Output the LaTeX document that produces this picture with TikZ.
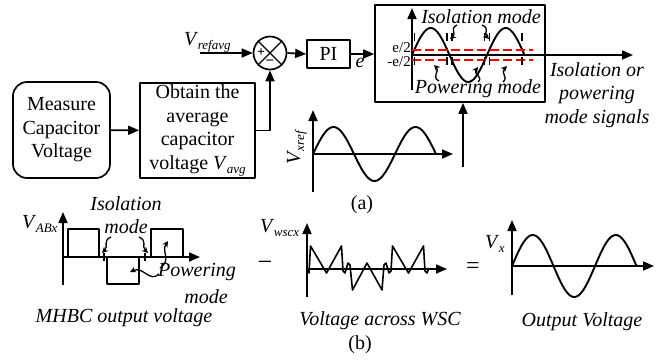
\documentclass[tikz,border=0pt]{standalone}
\usepackage{fontspec}
\setmainfont{Liberation Serif}
\usetikzlibrary{arrows.meta}
\newcommand{\Vs}[2][13]{\textit{V}\kern-0.5pt\raisebox{-0.45ex}{\fontsize{#1}{#1}\selectfont\itshape #2}}
\begin{document}
\begin{tikzpicture}[x=1pt,y=-1pt,line join=round,
  every node/.style={font=\fontsize{20}{23.5}\selectfont, inner sep=0pt},
  itx/.style={font=\fontsize{20}{23.5}\selectfont\itshape},
  blk/.style={draw, line width=1.7pt, align=center},
  conn/.style={line width=1.7pt, -{Triangle[length=11pt,width=9pt]}},
  axis/.style={line width=1.7pt, -{Triangle[length=11pt,width=9pt]}},
  wave/.style={line width=1.9pt},
  curl/.style={line width=1.3pt, -{Stealth[length=6pt,width=6pt]}}]
\useasboundingbox (0,0) rectangle (669,360);

% ---- (a) control chain
\node[blk, rounded corners=14pt, minimum width=97pt, minimum height=96pt] (meas) at (61.5,130) {Measure\\Capacitor\\Voltage};
\node[blk, minimum width=115pt, minimum height=95pt] (obt) at (197.5,130.5) {Obtain the\\average\\capacitor\\voltage \Vs{avg}};
\draw[conn] (meas) -- (obt);

\node[draw, circle, line width=1.7pt, minimum size=33pt] (sum) at (270,53) {};
\draw[line width=1.4pt] (sum.north west) -- (sum.south east) (sum.north east) -- (sum.south west);
\node[font=\fontsize{14}{14}\selectfont\bfseries] (plus) at (261,53) {+};
\node[font=\fontsize{15}{15}\selectfont\bfseries] (minussign) at (270,63) {−};

\coordinate (vref) at (200,53);
\draw[conn] (vref) -- (sum.west);
\node[anchor=base west] (vreflbl) at (184,45) {\Vs{refavg}};
\draw[conn] (obt.east) -| (sum.south);

\node[blk, minimum width=43pt, minimum height=28pt] (pi) at (328.5,54) {PI};
\draw[conn] (sum.east) -- (pi.west);

\node[draw, line width=1.7pt, minimum width=170pt, minimum height=97pt] (mode) at (460,53.5) {};
\draw[conn] (pi.east) -- (pi.east -| mode.west);
\node[itx] (elbl) at (360,63) {e};

% mode box content
\draw[axis] (412,90) -- (412,8);
\draw[axis] (412,55) -- (633,55);
\draw[wave] plot[domain=0:112.5, samples=90] ({412+\x},{55-27*sin(\x*4.8)});
\draw[red, line width=1.8pt, dash pattern=on 9pt off 4pt] (412,50) -- (533,50) (412,60) -- (533,60);
\foreach \xx in {414.5,447,452,484.5,489.5,522}
  \draw[line width=1.2pt] (\xx,33) -- (\xx,41) (\xx,57) -- (\xx,65);
\node[anchor=east, font=\fontsize{15}{15}\selectfont] (ep) at (411,48) {e/2};
\node[anchor=east, font=\fontsize{15}{15}\selectfont] (em) at (411,62) {-e/2};
\node[itx] (iso) at (481,17) {Isolation mode};
\node[itx] (pow) at (478,89) {Powering mode};
\draw[curl] (457,25) .. controls (449,29) and (457,33) .. (450,39);
\draw[curl] (482,25) .. controls (491,29) and (483,33) .. (489,39);
\draw[curl] (439,81) .. controls (431,77) and (440,71) .. (434,65);
\draw[curl] (478,82) .. controls (484,77) and (473,74) .. (478,67);
\draw[curl] (503,82) .. controls (509,77) and (500,73) .. (507,66);
\node[itx, align=center] (sig) at (597,95) {Isolation or\\powering\\mode signals};

% Vxref
\draw[axis] (313,192) -- (313,110);
\draw[axis] (313,154) -- (453,154);
\draw[wave] plot[domain=0:123, samples=90] ({313+\x},{154-27*sin(\x*4.3902)});
\node[rotate=90] (vxr) at (297,148) {\Vs{xref}};
\coordinate (vin) at (463,167);
\draw[conn] (vin) -- (vin |- mode.south);
\node (alab) at (362,205) {(a)};

% ---- (b) MHBC output
\draw[axis] (63,285) -- (63,212);
\draw[axis] (63,257) -- (200,257);
\draw[line width=1.7pt] (68,257) -- (68,229) -- (99,229) -- (99,257) -- (107,257) -- (107,284) -- (139,284) -- (139,257) -- (151,257) -- (151,229) -- (183,229) -- (183,257);
\foreach \xx in {104,145}
  \draw[line width=1.2pt] (\xx,253) -- (\xx,261);
\node[anchor=base west] (vab) at (22,228) {\Vs{ABx}};
\node[itx, align=center] (isob) at (126,215) {Isolation\\mode};
\draw[curl] (111,237) .. controls (102,241) and (109,246) .. (102,253);
\draw[curl] (139,237) .. controls (148,241) and (141,246) .. (148,253);
\node[itx] (powb) at (197,272) {Powering};
\node[itx] (powb2) at (206,297) {mode};
\draw[curl] (160,268) .. controls (172,260) and (161,252) .. (168,241);
\draw[curl] (159,274) .. controls (150,283) and (143,266) .. (130,272);
\node[itx] (mhbc) at (124,318) {MHBC output voltage};
\node[font=\fontsize{26}{26}\selectfont] (minus) at (265,266) {−};

% WSC voltage
\draw[axis] (307,297) -- (307,223);
\draw[axis] (307,269) -- (447,269);
\draw[line width=1.6pt] (307.5,270) -- (309,273) -- (310.5,246) -- (326.5,273) -- (341.5,246) -- (343,271) -- (345,273) -- (348,263) -- (350,265) -- (352.5,290) -- (367,263) -- (382,290) -- (384,265) -- (386,263) -- (389,273) -- (391,271) -- (392.5,246) -- (408.5,273) -- (423.5,246) -- (425,271) -- (427,273) -- (429,268);
\node[anchor=base west] (vws) at (260,232) {\Vs{wscx}};
\node[itx] (vacr) at (380,321) {Voltage across WSC};
\node (blab) at (360,345) {(b)};
\node[font=\fontsize{24}{24}\selectfont] (eq) at (473,268) {=};

% Output voltage
\draw[axis] (512,295) -- (512,220);
\draw[axis] (512,266) -- (654,266);
\draw[wave] plot[domain=0:124.5, samples=90] ({512+\x},{266-31*sin(\x*4.3373)});
\node[anchor=base west] (vxl) at (485,248) {\Vs{x}};
\node[itx] (outv) at (582,322) {Output Voltage};
\end{tikzpicture}
\end{document}
